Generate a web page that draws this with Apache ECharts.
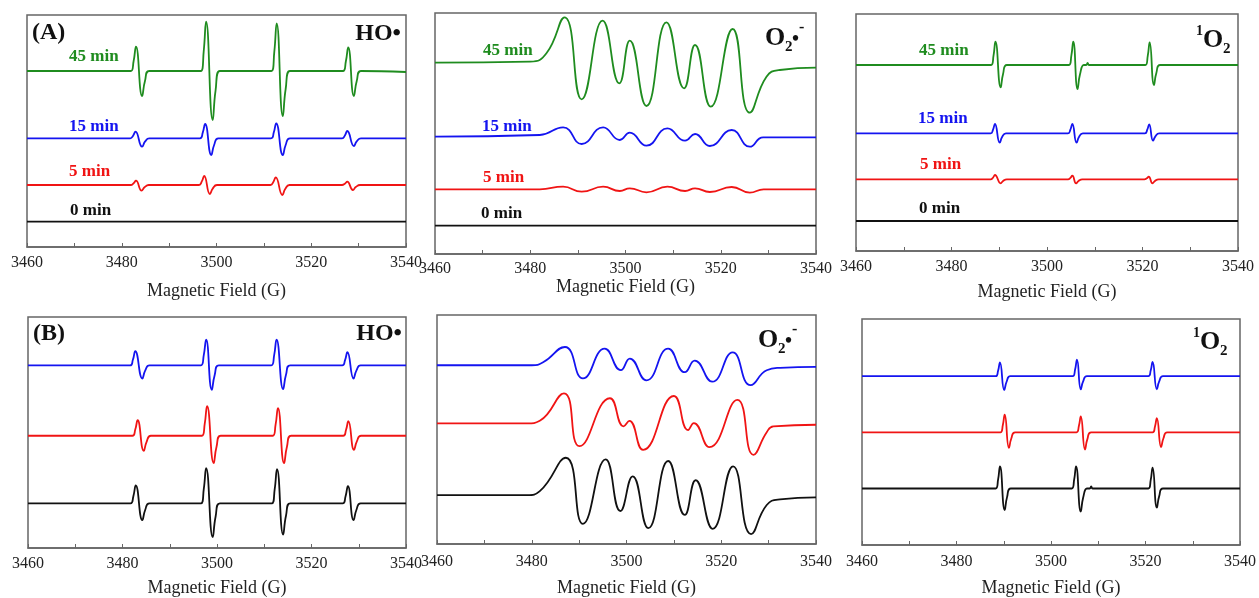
<!DOCTYPE html>
<html>
<head>
<meta charset="utf-8">
<script src="https://cdn.jsdelivr.net/npm/echarts@6/dist/echarts.min.js"></script>
<style>
  html, body { margin: 0; padding: 0; background: #fff; }
  #chart { width: 1259px; height: 598px; }
</style>
</head>
<body>
<div id="chart"></div>
<script>
// field axis (G)
var fieldTicks = [3460, 3480, 3500, 3520, 3540];

// trace values: [field (G), intensity (a.u., stacked with offset)]
// (A) HO• - DMPO-OH quartet
var a1_45 = [[3460,176],
  [3481.9,176],[3482.5,185.7],[3483.0,200.3],[3484.3,151],[3484.9,166],[3485.8,176],
  [3496.7,176],[3497.3,195.7],[3497.8,225.3],[3499.2,127],[3499.8,156.4],[3500.7,176],
  [3511.6,176],[3512.2,195.1],[3512.7,223.7],[3514.0,131],[3514.6,158],[3515.5,176],
  [3526.7,176],[3527.3,185.5],[3527.8,199.7],[3529.0,151],[3529.6,166],[3530.5,176],
  [3540,175]];
var a1_15 = [[3460,108.7],
  [3481.8,108.7],[3482.4,111.3],[3482.9,115.3],[3484.3,100.3],[3484.9,105.3],[3485.8,108.7],
  [3496.5,108.7],[3497.1,114.4],[3497.6,123],[3498.9,92],[3499.5,102],[3500.4,108.7],
  [3511.5,108.7],[3512.1,114.7],[3512.6,123.7],[3514.0,92],[3514.6,102],[3515.5,108.7],
  [3526.5,108.7],[3527.1,111.6],[3527.6,116],[3529.0,101],[3529.6,105.6],[3530.5,108.7],
  [3540,108.7]];
var a1_5 = [[3460,62],
  [3481.9,62],[3482.5,63.7],[3483.0,66.3],[3484.2,56.3],[3484.8,59.7],[3485.7,62],
  [3496.3,62],[3496.9,65.6],[3497.4,71],[3498.6,53],[3499.2,58.4],[3500.1,62],
  [3511.4,62],[3512.0,65.1],[3512.5,69.7],[3513.9,52],[3514.5,58],[3515.4,62],
  [3526.5,62],[3527.1,63.3],[3527.6,65.3],[3528.8,57],[3529.4,59.9],[3530.3,62],
  [3540,62]];
var a1_0 = [[3460,25.3],[3540,25.3]];

// (A) O2•- - DMPO-OOH
var a2_45 = [[3460,191.3],[3480,192.3],[3483.4,200.7],[3487.2,236.7],[3490.8,154.7],[3495.2,233.3],[3498.7,170.7],[3500.9,213.3],[3504.4,148],[3508.6,231.7],[3512.3,165.7],[3514.6,209],[3517.9,147.3],[3522.5,225],[3526.1,141.3],[3529.6,177.3],[3532.4,184],[3540,186.3]];
var a2_15 = [[3460,117.3],[3482,119],[3486.9,126.7],[3490.8,110],[3495.3,126.7],[3498.8,114],[3500.9,121.3],[3504.4,108.3],[3508.8,125.7],[3512.5,113.3],[3514.6,120],[3517.7,108],[3522.3,124],[3526.1,107.3],[3528.9,116.7],[3540,116.7]];
var a2_5 = [[3460,64.7],[3482,64.7],[3486.9,67.3],[3490.8,62.3],[3495.3,67.3],[3498.8,63],[3500.9,65.7],[3504.4,61.7],[3508.8,67.3],[3512.5,63],[3514.6,65.7],[3517.7,62],[3522.3,67],[3526.1,61.3],[3529,64.7],[3540,64.7]];
var a2_0 = [[3460,28.3],[3540,28.3]];

// (A) 1O2 - TEMP triplet
var a3_45 = [[3460,186],
  [3488.3,186],[3488.8,195.3],[3489.2,209.3],[3490.3,163.7],[3490.8,177.1],[3491.6,186],
  [3504.6,186],[3505.1,195.3],[3505.5,209.3],[3506.4,162],[3506.9,176.4],[3507.7,186],
  [3508.2,186],[3508.5,188],[3508.8,186],
  [3520.6,186],[3521.1,195.1],[3521.5,208.7],[3522.4,166],[3522.9,178],[3523.7,186],
  [3540,186]];
var a3_15 = [[3460,117.7],
  [3488.2,117.7],[3488.7,121.4],[3489.1,127],[3490.1,108.3],[3490.6,114],[3491.4,117.7],
  [3504.4,117.7],[3504.9,121.4],[3505.3,127],[3506.2,108.3],[3506.7,114],[3507.5,117.7],
  [3520.5,117.7],[3521.0,121.3],[3521.4,126.7],[3522.2,110.3],[3522.7,114.7],[3523.5,117.7],
  [3540,117.7]];
var a3_5 = [[3460,71.7],
  [3488.2,71.7],[3488.7,73.4],[3489.1,76],[3490.3,67.7],[3490.8,70.1],[3491.6,71.7],
  [3504.4,71.7],[3504.9,73.1],[3505.3,75.3],[3506.1,67.7],[3506.6,70.1],[3507.4,71.7],
  [3520.4,71.7],[3520.9,72.7],[3521.3,74.3],[3522.1,67.7],[3522.6,70.1],[3523.4,71.7],
  [3540,71.7]];
var a3_0 = [[3460,30],[3540,30]];

// (B) HO•
var b1_blue = [[3460,185],
  [3481.6,185],[3482.2,190.7],[3482.7,199.3],[3484.2,171.7],[3484.8,179.7],[3485.7,185],
  [3496.6,185],[3497.2,195.4],[3497.7,211],[3498.9,160.3],[3499.5,175.1],[3500.4,185],
  [3511.5,185],[3512.1,195.4],[3512.6,211],[3514.0,161],[3514.6,175.4],[3515.5,185],
  [3526.5,185],[3527.1,190.3],[3527.6,198.3],[3528.9,171.7],[3529.5,179.7],[3530.4,185],
  [3540,185]];
var b1_red = [[3460,113.7],
  [3482.1,113.7],[3482.7,120],[3483.2,129.4],[3484.5,98.4],[3485.1,107.6],[3486.0,113.7],
  [3496.8,113.7],[3497.4,125.7],[3497.9,143.7],[3499.3,86],[3499.9,102.6],[3500.8,113.7],
  [3511.8,113.7],[3512.4,124.9],[3512.9,141.7],[3514.2,86],[3514.8,102.6],[3515.7,113.7],
  [3526.7,113.7],[3527.3,119.6],[3527.8,128.4],[3529.0,99.4],[3529.6,108],[3530.5,113.7],
  [3540,113.7]];
var b1_black = [[3460,45.3],
  [3481.7,45.3],[3482.3,52.5],[3482.8,63.3],[3484.2,28.3],[3484.8,38.5],[3485.7,45.3],
  [3496.6,45.3],[3497.2,59.6],[3497.7,81],[3499.1,11],[3499.7,31.6],[3500.6,45.3],
  [3511.6,45.3],[3512.2,59.2],[3512.7,80],[3514.0,13.6],[3514.6,32.6],[3515.5,45.3],
  [3526.6,45.3],[3527.2,52.2],[3527.7,62.6],[3528.9,28.3],[3529.5,38.5],[3530.4,45.3],
  [3540,45.3]];

// (B) O2•-
var b2_blue = [[3460,180.3],[3480,180.3],[3482.4,183.3],[3487,198.7],[3490.8,167],[3495.4,197],[3498.8,175.3],[3500.7,187],[3504.2,165],[3508.8,197],[3512.3,173.3],[3514.4,185],[3518.1,163.7],[3522.4,193.3],[3526.2,160.3],[3529.6,175.3],[3532.4,177.7],[3540,178.7]];
var b2_red = [[3460,121.7],[3479,121.7],[3481.7,124.3],[3486.8,152],[3490.1,98.7],[3496.5,147],[3499.4,118.7],[3500.6,124.3],[3503.5,95],[3510.0,149.3],[3513.0,115],[3514.2,122],[3517.5,97.7],[3523.4,145.3],[3526.8,90],[3529.6,112.7],[3531,118.7],[3540,120.3]];
var b2_black = [[3460,49.3],[3479,49.3],[3481.7,53.3],[3487.2,87],[3490.8,20.3],[3495.6,85.3],[3498.7,33.3],[3501.3,68.3],[3504.6,16],[3508.8,83.7],[3512.3,29.3],[3514.6,64.3],[3518.2,15.3],[3522.5,78.3],[3526.3,10],[3529.6,39.3],[3532.4,45],[3540,47]];

// (B) 1O2
var b3_blue = [[3460,170.3],
  [3488.3,170.3],[3488.8,175.9],[3489.2,184.3],[3490.1,156.3],[3490.6,164.7],[3491.4,170.3],
  [3504.6,170.3],[3505.1,177],[3505.5,187],[3506.3,157],[3506.8,165],[3507.6,170.3],
  [3520.6,170.3],[3521.1,176],[3521.5,184.6],[3522.4,157],[3522.9,165],[3523.7,170.3],
  [3540,170.3]];
var b3_red = [[3460,113.7],
  [3489.3,113.7],[3489.8,120.8],[3490.2,131.4],[3491.1,98],[3491.6,107.4],[3492.4,113.7],
  [3505.4,113.7],[3505.9,120.1],[3506.3,129.7],[3507.2,96.4],[3507.7,106.8],[3508.5,113.7],
  [3521.5,113.7],[3522.0,119.4],[3522.4,128],[3523.3,98.7],[3523.8,107.7],[3524.6,113.7],
  [3540,113.7]];
var b3_black = [[3460,57],
  [3488.3,57],[3488.8,65.9],[3489.2,79.3],[3490.2,35.3],[3490.7,48.3],[3491.5,57],
  [3504.4,57],[3504.9,65.9],[3505.3,79.3],[3506.3,33.7],[3506.8,47.7],[3507.6,57],
  [3508.2,57],[3508.5,59],[3508.8,57],
  [3520.6,57],[3521.1,65.4],[3521.5,78],[3522.4,37.7],[3522.9,49.3],[3523.7,57],
  [3540,57]];

var timeLabels = ['45 min', '15 min', '5 min', '0 min'];

var GREEN = '#1f8c1f', BLUE = '#1414f0', RED = '#f01414', BLACK = '#111';
var SERIF = '"Liberation Serif", "Times New Roman", serif';

// panel boxes in pixels: left, top, right, bottom
var panels = [
  { box: [27, 15, 406, 247], labelMargin: 8, nameGap: 35, traces: [[a1_45, GREEN], [a1_15, BLUE], [a1_5, RED], [a1_0, BLACK]] },
  { box: [435, 13, 816, 254], labelMargin: 7, nameGap: 17, traces: [[a2_45, GREEN], [a2_15, BLUE], [a2_5, RED], [a2_0, BLACK]] },
  { box: [856, 14, 1238, 251], labelMargin: 8, nameGap: 32, traces: [[a3_45, GREEN], [a3_15, BLUE], [a3_5, RED], [a3_0, BLACK]] },
  { box: [28, 317, 406, 551], labelMargin: 8, nameGap: 31, traces: [[b1_blue, BLUE], [b1_red, RED], [b1_black, BLACK]] },
  { box: [437, 315, 816, 546], labelMargin: 10, nameGap: 35, traces: [[b2_blue, BLUE], [b2_red, RED], [b2_black, BLACK]] },
  { box: [862, 319, 1240, 547], labelMargin: 9, nameGap: 34, traces: [[b3_blue, BLUE], [b3_red, RED], [b3_black, BLACK]] }
];

var grids = [], xAxes = [], yAxes = [], series = [];
panels.forEach(function (p, i) {
  var b = p.box;
  grids.push({
    left: b[0], top: b[1], width: b[2] - b[0], height: b[3] - b[1],
    show: true, borderColor: '#666', borderWidth: 1.5, backgroundColor: 'transparent'
  });
  xAxes.push({
    gridIndex: i, type: 'value',
    min: fieldTicks[0], max: fieldTicks[fieldTicks.length - 1], interval: 20,
    axisLine: { lineStyle: { color: '#666', width: 1.5 } },
    axisTick: { inside: true, length: 4, lineStyle: { color: '#666' } },
    minorTick: { show: true, splitNumber: 2, length: 4, lineStyle: { color: '#666' } },
    splitLine: { show: false },
    axisLabel: {
      fontFamily: SERIF, fontSize: 16, color: '#222', margin: p.labelMargin,
      showMinLabel: true, showMaxLabel: true,
      formatter: function (v) { return String(v); }
    },
    name: 'Magnetic Field (G)', nameLocation: 'middle', nameGap: p.nameGap,
    nameTextStyle: { fontFamily: SERIF, fontSize: 18, color: '#222' }
  });
  yAxes.push({ gridIndex: i, type: 'value', min: 0, max: b[3] - b[1], show: false });
  p.traces.forEach(function (t) {
    series.push({
      type: 'line', xAxisIndex: i, yAxisIndex: i, data: t[0],
      symbol: 'none', smooth: 0.5, silent: true,
      lineStyle: { color: t[1], width: 1.8 }
    });
  });
});

// text annotations
function txt(x, y, text, size, color, align) {
  return {
    type: 'text', x: x, y: y, silent: true,
    style: { text: text, font: 'bold ' + size + 'px ' + SERIF, fill: color || '#111', align: align || 'left', verticalAlign: 'middle' }
  };
}
var timeColors = [GREEN, BLUE, RED, BLACK];
var timePos = [
  [[69, 57], [69, 127], [69, 172], [70, 211]],
  [[483, 51], [482, 127], [483, 178], [481, 214]],
  [[919, 51], [918, 119], [920, 165], [919, 209]]
];
var graphics = [];
timePos.forEach(function (pos) {
  pos.forEach(function (q, k) {
    graphics.push(txt(q[0], q[1], timeLabels[k], 17, timeColors[k]));
  });
});
graphics.push(txt(32, 33, '(A)', 24), txt(33, 334, '(B)', 24));
graphics.push(txt(401, 34, 'HO\u2022', 24, '#111', 'right'), txt(402, 334, 'HO\u2022', 24, '#111', 'right'));
function superoxide(x, y) {
  return [txt(x, y, 'O', 26), txt(x + 20, y + 9, '2', 15), txt(x + 27, y + 2, '\u2022', 20), txt(x + 34, y - 10, '-', 16)];
}
function singlet(x, y) {
  return [txt(x, y - 9, '1', 14), txt(x + 7, y, 'O', 26), txt(x + 27, y + 9, '2', 15)];
}
graphics = graphics.concat(superoxide(765, 38), superoxide(758, 340), singlet(1196, 40), singlet(1193, 342));

var chart = echarts.init(document.getElementById('chart'));
chart.setOption({
  animation: false,
  grid: grids,
  xAxis: xAxes,
  yAxis: yAxes,
  series: series,
  graphic: graphics
});
</script>
</body>
</html>
